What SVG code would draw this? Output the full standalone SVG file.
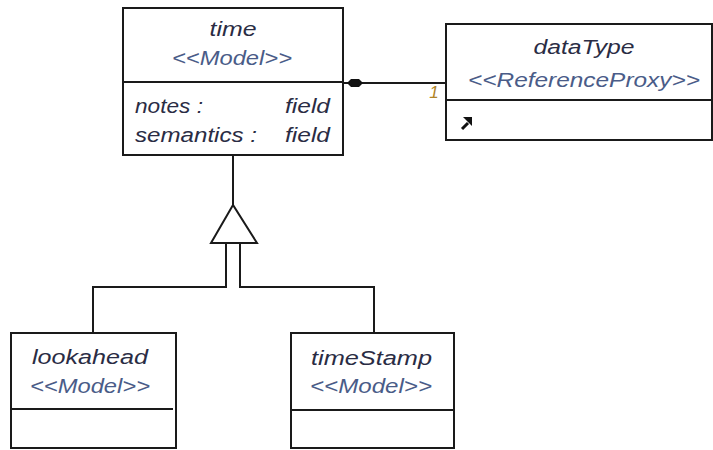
<svg xmlns="http://www.w3.org/2000/svg" width="713" height="450" viewBox="0 0 713 450">
  <style>
    .box { fill: #ffffff; stroke: #1a1a1a; stroke-width: 2; }
    .sep { stroke: #1a1a1a; stroke-width: 2; }
    .edge { fill: none; stroke: #1a1a1a; stroke-width: 2; }
    text { font-family: "Liberation Sans", Arial, sans-serif; font-style: italic; font-size: 20.5px; }
    .name { fill: #2a2c44; }
    .stereo { fill: #4a5c88; }
    .attr { fill: #2a2c44; }
    .mult { fill: #b08428; font-size: 17px; }
  </style>
  <rect width="713" height="450" fill="#ffffff"/>

  <g id="connectors">
    <!-- composition: time -> dataType -->
    <line class="edge" x1="343" y1="83" x2="446" y2="83"/>
    <polygon points="347,83 351,79 359,79 363,83 359,87 351,87" fill="#111111"/>
    <text class="mult" x="434" y="98" text-anchor="middle">1</text>
    <!-- generalization: lookahead / timeStamp -> time -->
    <line class="edge" x1="233" y1="155" x2="233" y2="205"/>
    <polygon class="edge" points="233,205 211,243 257,243"/>
    <polyline class="edge" points="226,243 226,287 93,287 93,333"/>
    <polyline class="edge" points="240,243 240,287 374,287 374,333"/>
  </g>

  <g id="time">
    <rect class="box" x="123" y="8" width="220" height="147"/>
    <line class="sep" x1="123" y1="82" x2="343" y2="82"/>
    <text class="name" x="233" y="36" text-anchor="middle" textLength="47" lengthAdjust="spacingAndGlyphs">time</text>
    <text class="stereo" x="232" y="65" text-anchor="middle" textLength="120" lengthAdjust="spacingAndGlyphs">&lt;&lt;Model&gt;&gt;</text>
    <text class="attr" x="135" y="113" textLength="68" lengthAdjust="spacingAndGlyphs">notes :</text>
    <text class="attr" x="285" y="113" textLength="45" lengthAdjust="spacingAndGlyphs">field</text>
    <text class="attr" x="135" y="142" textLength="122" lengthAdjust="spacingAndGlyphs">semantics :</text>
    <text class="attr" x="285" y="142" textLength="45" lengthAdjust="spacingAndGlyphs">field</text>
  </g>

  <g id="dataType">
    <rect class="box" x="446" y="24" width="266" height="116"/>
    <line class="sep" x1="446" y1="100" x2="712" y2="100"/>
    <text class="name" x="584" y="54" text-anchor="middle" textLength="101" lengthAdjust="spacingAndGlyphs">dataType</text>
    <text class="stereo" x="584" y="87" text-anchor="middle" textLength="232" lengthAdjust="spacingAndGlyphs">&lt;&lt;ReferenceProxy&gt;&gt;</text>
    <!-- shortcut arrow icon -->
    <line x1="462" y1="129" x2="468" y2="123" stroke="#111111" stroke-width="3"/>
    <polygon points="472,117 472,126 463,117" fill="#111111"/>
  </g>

  <g id="lookahead">
    <rect class="box" x="11" y="333" width="165" height="115"/>
    <line class="sep" x1="11" y1="409" x2="173" y2="409"/>
    <text class="name" x="90" y="364" text-anchor="middle" textLength="116" lengthAdjust="spacingAndGlyphs">lookahead</text>
    <text class="stereo" x="90" y="393" text-anchor="middle" textLength="120" lengthAdjust="spacingAndGlyphs">&lt;&lt;Model&gt;&gt;</text>
  </g>

  <g id="timeStamp">
    <rect class="box" x="291" y="333" width="163" height="115"/>
    <line class="sep" x1="291" y1="410" x2="453" y2="410"/>
    <text class="name" x="371.5" y="365" text-anchor="middle" textLength="121" lengthAdjust="spacingAndGlyphs">timeStamp</text>
    <text class="stereo" x="371" y="393" text-anchor="middle" textLength="122" lengthAdjust="spacingAndGlyphs">&lt;&lt;Model&gt;&gt;</text>
  </g>
</svg>
